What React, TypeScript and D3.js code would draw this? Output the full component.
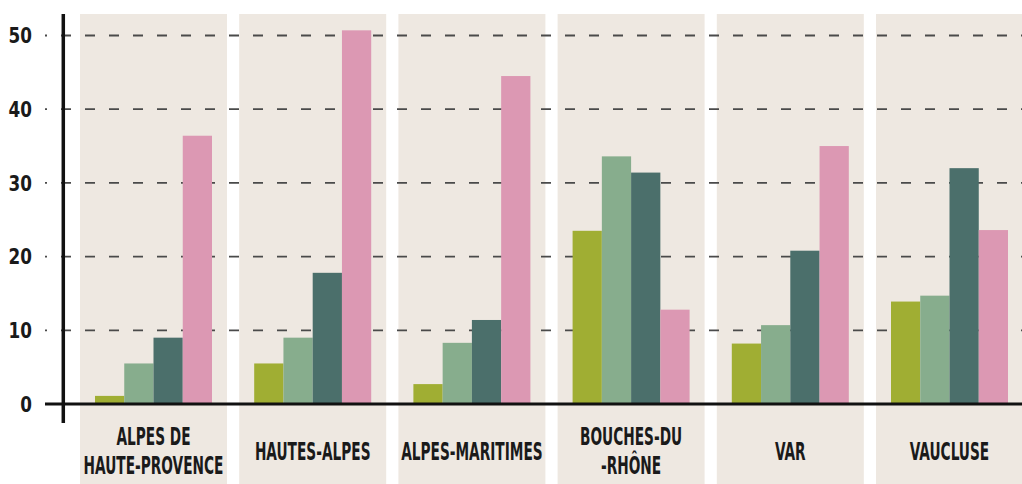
import React from "react";
import * as d3 from "d3";

// Départements de la région PACA
const categories = [
  "ALPES DE HAUTE-PROVENCE",
  "HAUTES-ALPES",
  "ALPES-MARITIMES",
  "BOUCHES-DU-RHÔNE",
  "VAR",
  "VAUCLUSE",
];
const categoryLines = [
  ["ALPES DE", "HAUTE-PROVENCE"],
  ["HAUTES-ALPES"],
  ["ALPES-MARITIMES"],
  ["BOUCHES-DU", "-RHÔNE"],
  ["VAR"],
  ["VAUCLUSE"],
];

// Four series per département
const seriesKeys = ["s1", "s2", "s3", "s4"];
const seriesS1 = [1.1, 5.5, 2.7, 23.5, 8.2, 13.9];
const seriesS2 = [5.5, 9.0, 8.3, 33.6, 10.7, 14.7];
const seriesS3 = [9.0, 17.8, 11.4, 31.4, 20.8, 32.0];
const seriesS4 = [36.4, 50.7, 44.5, 12.8, 35.0, 23.6];
const seriesValues = [seriesS1, seriesS2, seriesS3, seriesS4];
const seriesColors = ["#a0ae33", "#87ad8d", "#4b6f6b", "#dc98b3"];

const yTicks = [0, 10, 20, 30, 40, 50];

const W = 1022;
const H = 484;
const FONT = "'DejaVu Sans Condensed', 'Liberation Sans Narrow', sans-serif";

export default function App() {
  const y = d3.scaleLinear().domain([0, 50]).range([404, 35.5]);

  const x0 = d3
    .scaleBand<string>()
    .domain(categories)
    .range([67.8, 1035.2])
    .paddingInner(0.0766)
    .paddingOuter(0.0766);

  const bw = x0.bandwidth();
  const x1 = d3
    .scaleBand<string>()
    .domain(seriesKeys)
    .range([15, bw - 15])
    .padding(0);

  const axisX = 63.3;
  const gridStart = 45;

  return (
    <div style={{ position: "fixed", left: 0, top: 0 }}>
      <svg width={W} height={H} style={{ display: "block", background: "#fff" }}>
        {/* panel backgrounds */}
        {categories.map((c) => (
          <rect key={c} x={x0(c)} y={14} width={bw} height={H - 14} fill="#eee8e1" />
        ))}

        {/* dashed gridlines */}
        {yTicks
          .filter((t) => t > 0)
          .map((t) => (
            <line
              key={t}
              x1={gridStart}
              x2={W}
              y1={y(t)}
              y2={y(t)}
              stroke="#4a4a4a"
              strokeWidth={1.8}
              strokeDasharray="10 14"
              strokeDashoffset={8}
            />
          ))}

        {/* bars */}
        {categories.map((c, i) => (
          <g key={c} transform={`translate(${x0(c)},0)`}>
            {seriesKeys.map((k, j) => {
              const v = seriesValues[j][i];
              return (
                <rect
                  key={k}
                  x={x1(k)}
                  y={y(v)}
                  width={x1.bandwidth()}
                  height={y(0) - y(v)}
                  fill={seriesColors[j]}
                />
              );
            })}
          </g>
        ))}

        {/* axes */}
        <line x1={gridStart} x2={W} y1={y(0)} y2={y(0)} stroke="#111" strokeWidth={3} />
        <line x1={axisX} x2={axisX} y1={14} y2={423} stroke="#111" strokeWidth={3.5} />

        {/* y tick labels */}
        {yTicks.map((t) => (
          <g key={t} transform={`translate(32,${y(t) + 7.8}) scale(0.85,1)`}>
            <text
              x={0}
              y={0}
              textAnchor="end"
              fontFamily={FONT}
              fontWeight="bold"
              fontSize={22}
              fill="#1a1a1a"
            >
              {t}
            </text>
          </g>
        ))}

        {/* category labels */}
        {categories.map((c, i) => {
          const lines = categoryLines[i];
          const cx = (x0(c) ?? 0) + bw / 2;
          return (
            <g key={c}>
              {lines.map((ln, li) => {
                const by = 459.5 + (li - (lines.length - 1) / 2) * 28.5;
                return (
                  <g key={li} transform={`translate(${cx},${by}) scale(0.635,1)`}>
                    <text
                      x={0}
                      y={0}
                      textAnchor="middle"
                      fontFamily={FONT}
                      fontWeight="bold"
                      fontSize={24}
                      fill="#1a1a1a"
                    >
                      {ln}
                    </text>
                  </g>
                );
              })}
            </g>
          );
        })}
      </svg>
    </div>
  );
}
